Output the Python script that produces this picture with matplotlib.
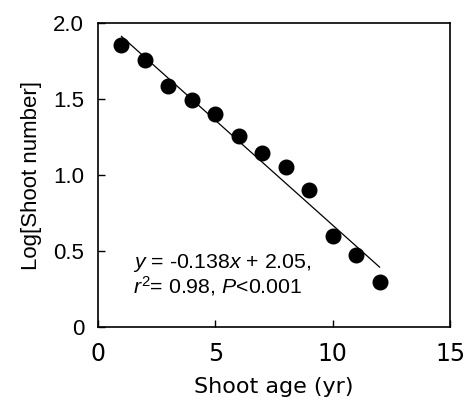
import matplotlib
matplotlib.use("Agg")
import matplotlib.pyplot as plt
import numpy as np

plt.rcParams['font.family'] = ['Liberation Sans', 'DejaVu Sans']
plt.rcParams['mathtext.fontset'] = 'custom'
plt.rcParams['mathtext.rm'] = 'Liberation Sans'
plt.rcParams['mathtext.it'] = 'Liberation Sans:italic'

shoot_age = [1, 2, 3, 4, 5, 6, 7, 8, 9, 10, 11, 12]
log_shoot_number = [1.855, 1.757, 1.586, 1.493, 1.400, 1.257, 1.143, 1.051, 0.901, 0.599, 0.472, 0.298]
slope = -0.138
intercept = 2.05
x_ticks = [0, 5, 10, 15]
y_ticks = [0, 0.5, 1.0, 1.5, 2.0]
y_tick_labels = ["0", "0.5", "1.0", "1.5", "2.0"]

fig = plt.figure(figsize=(4.65, 4.05), dpi=100)
ax = fig.add_axes([98/465, 1-327/405, (450-98)/465, (327-23)/405])

ax.plot(shoot_age, log_shoot_number, 'o', color='black', markersize=10.5, zorder=3)
xf = np.array([shoot_age[0], shoot_age[-1]])
ax.plot(xf, slope*xf + intercept, color='black', lw=0.9, zorder=2)

ax.set_xlim(0, 15)
ax.set_ylim(0, 2.0)
ax.set_xticks(x_ticks)
ax.set_yticks(y_ticks)
ax.set_yticklabels(y_tick_labels)
ax.tick_params(direction='in', length=5, width=1, top=False, right=False)
ax.tick_params(axis='y', pad=10, labelsize=16)
ax.tick_params(axis='x', pad=11, labelsize=17)
for lab in ax.get_xticklabels():
    lab.set_family('DejaVu Sans')
for s in ax.spines.values():
    s.set_linewidth(1.2)

ax.set_xlabel("Shoot age (yr)", fontsize=16, labelpad=8, family='DejaVu Sans')
ax.set_ylabel("Log[Shoot number]", fontsize=16, labelpad=8)

ax.text(1.48, 0.39, r"$y$ = -0.138$x$ + 2.05,", fontsize=15.3, ha='left', va='baseline')
ax.text(1.48, 0.225, r"$r^2$= 0.98, $P$<0.001", fontsize=15.3, ha='left', va='baseline')

fig.savefig("out.png", dpi=100)
